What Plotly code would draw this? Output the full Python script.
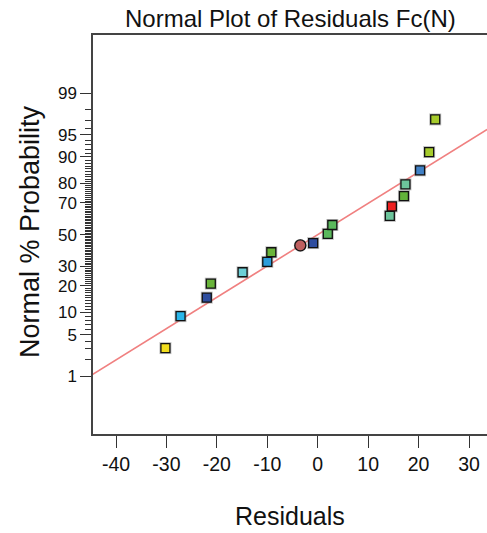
import plotly.graph_objects as go
from statistics import NormalDist

nd = NormalDist()

# Data
residuals = [-30.2, -27.2, -22.0, -21.2, -14.9, -10.0, -9.2, -0.9, 2.0, 2.9,
             14.3, 14.7, 17.1, 17.4, 20.3, 22.1, 23.3]
probabilities = [3.1, 9.0, 15.0, 21.0, 26.8, 32.7, 38.6, 44.5, 50.5, 56.3,
                 62.1, 67.9, 73.7, 79.6, 85.5, 91.3, 97.1]
point_colors = ["#F2DE1E", "#2AB6EA", "#2F4E9F", "#69B43A", "#6CCFD6", "#2E9DDB",
                "#6AB43A", "#2E4D9F", "#5BB85C", "#5BB85C", "#6CC49B", "#EE2020",
                "#62B23A", "#6CC49B", "#4181C6", "#A6CB2C", "#A6CB2C"]

highlight_residual = [-3.45]
highlight_color = "#BF5F5F"

line_mean = 0.0
line_sd = 19.4
line_x = [-44.6, 33.6]

major_pct = [1, 5, 10, 20, 30, 50, 70, 80, 90, 95, 99]
major_labels = ["1", "5", "10", "20", "30", "50", "70", "80", "90", "95", "99"]
minor_pct = list(range(1, 100))

x_ticks = [-40, -30, -20, -10, 0, 10, 20, 30]

z = lambda p: nd.inv_cdf(p / 100.0)

fig = go.Figure()

# reference line
fig.add_trace(go.Scatter(
    x=line_x, y=[(v - line_mean) / line_sd for v in line_x],
    mode="lines", line=dict(color="#F08080", width=1.6),
    hoverinfo="skip", showlegend=False, cliponaxis=True))

yz = [z(p) for p in probabilities]

# shadow halo
fig.add_trace(go.Scatter(
    x=residuals, y=yz, mode="markers",
    marker=dict(symbol="square", size=12, color="rgba(120,120,120,0.45)",
                line=dict(width=0)),
    hoverinfo="skip", showlegend=False))

fig.add_trace(go.Scatter(
    x=residuals, y=yz, mode="markers",
    marker=dict(symbol="square", size=9, color=point_colors,
                line=dict(color="#111111", width=1.3)),
    showlegend=False))

hz = [(v - line_mean) / line_sd for v in highlight_residual]
fig.add_trace(go.Scatter(
    x=highlight_residual, y=hz, mode="markers",
    marker=dict(symbol="circle", size=13, color="rgba(120,120,120,0.45)",
                line=dict(width=0)),
    hoverinfo="skip", showlegend=False))
fig.add_trace(go.Scatter(
    x=highlight_residual, y=hz, mode="markers",
    marker=dict(symbol="circle", size=11, color=highlight_color,
                line=dict(color="#111111", width=1.3)),
    showlegend=False))

font_family = "Liberation Sans, Arial, sans-serif"

fig.update_layout(
    width=487, height=533,
    margin=dict(l=93, r=0, t=35, b=99),
    paper_bgcolor="white", plot_bgcolor="white",
    font=dict(family=font_family, color="#000000"),
    showlegend=False,
    xaxis=dict(
        range=[-44.56, 33.57], tickvals=x_ticks,
        ticktext=[str(t) for t in x_ticks],
        showgrid=False, zeroline=False,
        showline=True, linecolor="#444444", linewidth=1.5, mirror=True,
        ticks="outside", ticklen=12, tickwidth=1.2, tickcolor="#333333",
        tickfont=dict(size=19.5, family=font_family, color="#111111"),
        fixedrange=True),
    yaxis=dict(
        range=[-3.28, 3.285],
        tickvals=[z(p) for p in major_pct], ticktext=major_labels,
        showgrid=False, zeroline=False,
        showline=True, linecolor="#444444", linewidth=1.5,
        ticks="outside", ticklen=11, tickwidth=1.2, tickcolor="#333333",
        tickfont=dict(size=17, family=font_family, color="#111111"),
        minor=dict(tickvals=[z(p) for p in minor_pct], ticks="outside",
                   ticklen=6, tickwidth=1, tickcolor="#333333"),
        fixedrange=True),
    annotations=[
        dict(text="Normal Plot of Residuals Fc(N)", xref="paper", yref="paper",
             x=0.5, y=1 + (35 - 18) / 399, xanchor="center", yanchor="middle",
             showarrow=False, font=dict(size=24, family=font_family, color="#111111")),
        dict(text="Residuals", xref="paper", yref="paper",
             x=0.5, y=-(516 - 434) / 399, xanchor="center", yanchor="middle",
             showarrow=False, font=dict(size=25, family=font_family, color="#111111")),
        dict(text="Normal % Probability", xref="paper", yref="paper",
             x=(30 - 93) / 394, y=1 - (232 - 35) / 399, xanchor="center", yanchor="middle",
             textangle=-90, showarrow=False,
             font=dict(size=27, family=font_family, color="#111111")),
    ],
)

fig.write_html("out.html")
